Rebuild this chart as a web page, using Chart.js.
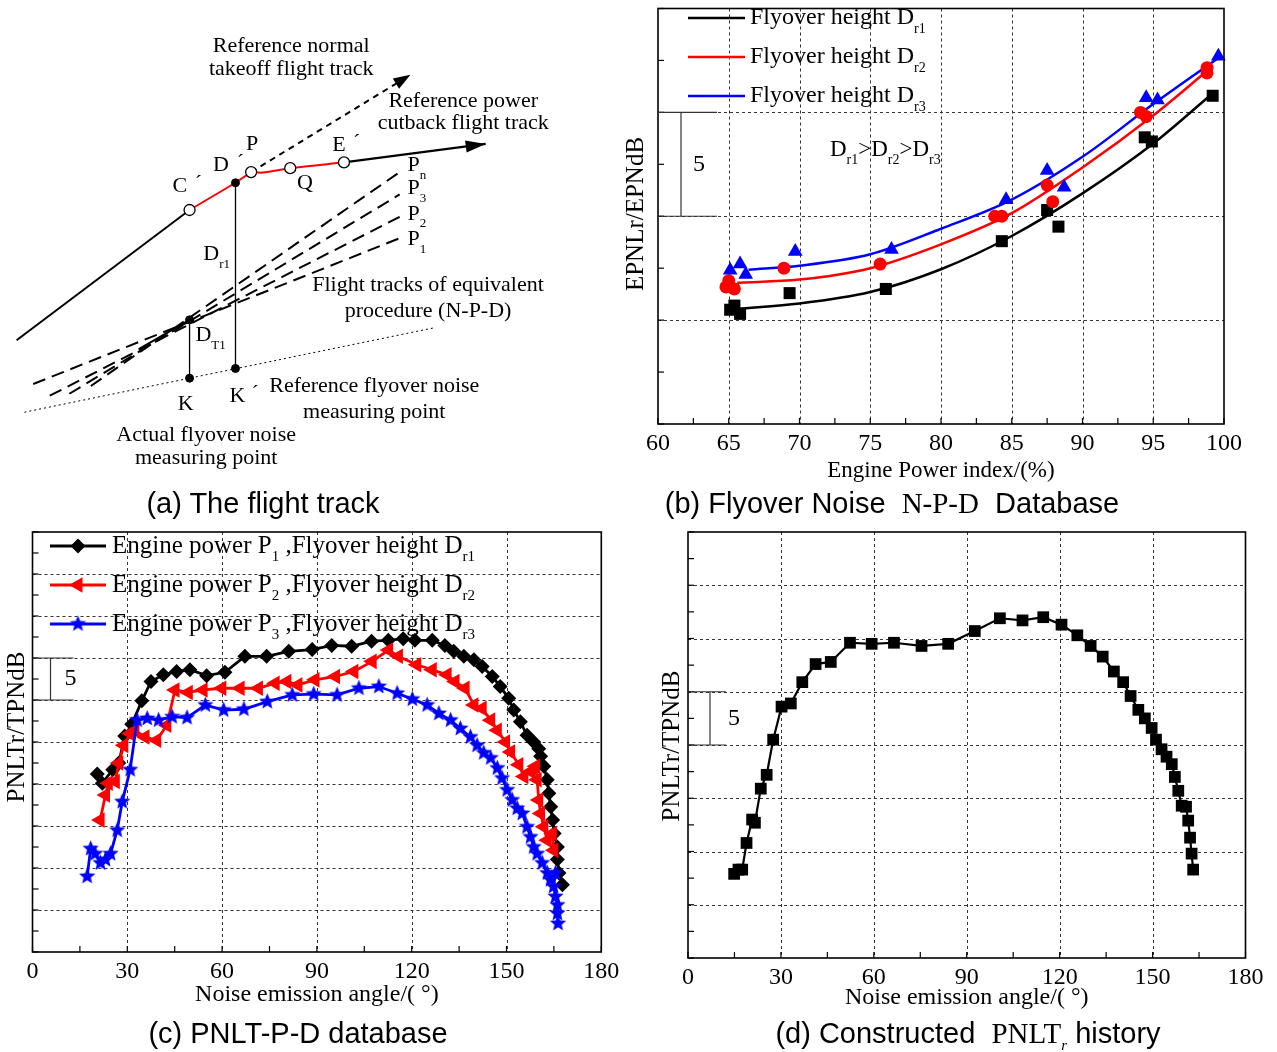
<!DOCTYPE html>
<html>
<head>
<meta charset="utf-8">
<title>Flyover noise N-P-D figure</title>
<script src="https://cdn.jsdelivr.net/npm/chart.js@4.4.1/dist/chart.umd.min.js"></script>
<style>
  html, body { margin: 0; padding: 0; background: #fff; }
  body { position: relative; width: 1277px; height: 1052px; overflow: hidden; }
  canvas { position: absolute; }
  .cap { position: absolute; font-family: "Liberation Sans", Arial, sans-serif; font-size: 29px; line-height: 32px;
         white-space: nowrap; transform: translateX(-50%); color: #000; }
  .cap .tm { font-family: "Liberation Serif", "Times New Roman", serif; }
  .cap sub { font-size: 15px; font-style: italic; vertical-align: -7px; line-height: 0; }
</style>
</head>
<body>
<canvas id="figA" width="600" height="490" style="left:0;top:0"></canvas>
<canvas id="figB" width="677" height="490" style="left:600px;top:0"></canvas>
<canvas id="figC" width="640" height="532" style="left:0;top:520px"></canvas>
<canvas id="figD" width="637" height="532" style="left:640px;top:520px"></canvas>
<div class="cap" style="left:263px;top:487px">(a) The flight track</div>
<div class="cap" style="left:892px;top:487px">(b) Flyover Noise&nbsp; <span class="tm">N-P-D</span>&nbsp; Database</div>
<div class="cap" style="left:298px;top:1017px">(c) PNLT-P-D database</div>
<div class="cap" style="left:968px;top:1017px">(d) Constructed&nbsp; <span class="tm">PNLT<sub>r</sub></span> history</div>

<script>
// ---------- (a) flight track sketch, in the sketch's own x/y units ----------
const aClimb     = [[10, 343], [187, 209]];
const aClimbRed  = [[187, 209], [234, 181], [250, 170]];
const aCutback   = [[250, 170], [262, 170.5], [290, 166], [345, 160]];
const aCutArrow  = [[345, 160], [490, 141]];
const aTakeoff   = [[250, 170], [413, 70]];
const aDr1       = [[234, 181], [234, 372]];
const aDT1       = [[187, 322], [187, 382]];
const aGround    = [[18, 417], [438, 330]];
const aStub      = [[135, 352], [187, 322]];
const aP1        = [[27, 388], [402, 238]];
const aP2        = [[44, 400], [402, 216]];
const aP3        = [[64, 398], [402, 193]];
const aPn        = [[86, 390], [402, 170]];
const aOpenPts   = [[187, 209], [250, 170], [290, 166], [345, 160]];
const aSolidPts  = [[234, 181], [234, 372], [187, 382], [187, 322]];

// ---------- (b) EPNL vs engine power, three flyover heights ----------
const powerTicks = [60, 65, 70, 75, 80, 85, 90, 95, 100];
const dr1Power = [65.1, 65.4, 65.8, 69.3, 76.1, 84.3, 87.5, 88.3, 94.4, 94.9, 99.2];
const dr1Epnl  = [5.5, 5.7, 5.3, 6.3, 6.5, 8.8, 10.3, 9.5, 13.8, 13.6, 15.8];
const dr2Power = [64.8, 65.0, 65.4, 68.9, 75.7, 83.8, 84.3, 87.5, 87.9, 94.1, 94.5, 98.8, 98.8];
const dr2Epnl  = [6.6, 6.9, 6.5, 7.5, 7.7, 10.0, 10.0, 11.5, 10.7, 15.0, 14.8, 16.9, 17.15];
const dr3Power = [65.1, 65.8, 66.2, 69.7, 76.5, 84.6, 87.5, 88.7, 94.5, 95.3, 99.6];
const dr3Epnl  = [7.4, 7.7, 7.2, 8.3, 8.4, 10.8, 12.2, 11.4, 15.7, 15.6, 17.7];
const fit1Power = [65.6, 70, 75, 80, 85, 90, 95, 99];
const fit1Epnl  = [5.55, 5.8, 6.35, 7.45, 9.05, 11.1, 13.5, 15.8];
const fit2Power = [65.6, 70, 75, 80, 85, 90, 95, 98.9];
const fit2Epnl  = [6.8, 6.95, 7.5, 8.65, 10.15, 12.35, 14.85, 17.05];
const fit3Power = [66.4, 70, 75, 80, 85, 90, 95, 99.6];
const fit3Epnl  = [7.43, 7.62, 8.17, 9.4, 10.8, 12.86, 15.4, 17.62];

// ---------- (c) PNLT-P-D database ----------
const angleTicks = [0, 30, 60, 90, 120, 150, 180];
const p1Angle = [20.5, 22.1, 25.4, 27.3, 29.2, 31.4, 34.6, 37.5, 41.4, 45.6, 49.8, 55.1, 60.9, 67.2, 74.1, 81.1,
  88.5, 94.7, 101.0, 107.3, 112.6, 117.3, 121.0, 126.5, 130.5, 133.3, 136.5, 139.7, 142.3, 145.5, 148.0, 150.7,
  152.3, 154.4, 156.5, 158.6, 160.2, 160.8, 161.8, 162.9, 163.4, 164.0, 164.6, 165.1, 166.1, 166.1, 166.6, 167.7];
const p1Pnlt = [21.2, 20.1, 21.7, 22.5, 25.7, 27.1, 29.9, 32.2, 33.0, 33.4, 33.6, 32.9, 33.3, 35.2, 35.2, 35.8,
  36.0, 36.5, 36.4, 37.0, 37.1, 37.3, 37.1, 37.1, 36.5, 35.8, 35.2, 34.8, 34.0, 32.8, 31.6, 30.2,
  28.8, 27.4, 25.8, 25.0, 24.2, 23.3, 22.1, 20.5, 18.9, 17.3, 15.7, 14.1, 12.5, 11.0, 9.4, 8.0];
const p2Angle = [21.4, 23.1, 24.0, 26.2, 27.3, 28.9, 30.9, 32.4, 35.6, 39.3, 42.5, 45.1, 49.3, 54.0, 59.9, 65.7,
  71.5, 76.8, 80.5, 84.0, 89.4, 95.9, 101.7, 107.5, 112.7, 115.8, 121.6, 126.5, 131.2, 133.7, 136.9, 139.7,
  142.3, 145.0, 147.1, 149.7, 151.3, 153.9, 155.5, 157.6, 159.2, 159.7, 160.2, 160.8, 161.8, 162.9, 164.5, 165.0];
const p2Pnlt = [15.7, 18.7, 20.1, 20.3, 22.5, 24.6, 26.0, 26.4, 25.6, 25.2, 27.0, 31.2, 30.9, 31.2, 31.4, 31.4,
  31.4, 32.0, 32.2, 31.8, 32.4, 32.8, 33.4, 34.6, 35.95, 35.2, 34.2, 33.6, 33.0, 32.2, 31.4, 29.4,
  29.0, 27.6, 26.4, 25.0, 23.8, 22.3, 20.9, 21.5, 22.1, 20.5, 18.1, 16.5, 14.9, 13.3, 14.1, 12.1];
const p3Angle = [17.3, 18.4, 19.8, 21.5, 23.1, 24.7, 26.8, 28.4, 30.9, 33.1, 36.3, 39.9, 44.2, 48.9, 54.7, 60.5,
  66.9, 74.3, 82.2, 89.0, 96.4, 103.3, 109.6, 115.4, 120.2, 124.9, 128.6, 132.3, 135.4, 138.6, 140.7, 142.8,
  145.0, 147.1, 148.6, 150.2, 151.8, 153.4, 155.0, 156.5, 157.6, 158.6, 159.7, 161.3, 162.9, 163.9, 165.5, 164.9,
  165.5, 166.1, 166.1, 166.3];
const p3Pnlt = [9.0, 12.3, 11.7, 10.6, 11.0, 11.7, 14.5, 17.9, 21.7, 27.6, 27.8, 27.6, 28.0, 27.9, 29.4, 28.8,
  28.9, 29.8, 30.6, 30.7, 30.6, 31.4, 31.6, 30.8, 30.1, 29.4, 28.4, 27.6, 26.6, 25.6, 24.6, 23.7,
  23.1, 21.9, 20.7, 19.3, 18.1, 17.1, 16.5, 14.9, 13.7, 12.5, 11.7, 10.6, 9.4, 8.6, 9.4, 7.8,
  6.6, 5.6, 4.6, 3.4];

// ---------- (d) constructed PNLTr history ----------
const histAngle = [14.9, 16.3, 17.5, 18.9, 20.7, 21.6, 23.5, 25.4, 27.5, 30.2, 33.2, 36.9, 41.2, 46.1, 52.3, 59.3,
  66.5, 75.4, 84.0, 92.6, 100.7, 108.0, 114.7, 120.6, 125.7, 130.0, 133.9, 137.5, 140.5, 142.9, 145.4, 147.5,
  149.7, 151.1, 152.9, 154.5, 156.2, 157.2, 158.3, 159.4, 160.8, 161.5, 162.1, 162.6, 163.1];
const histPnlt = [7.9, 8.3, 8.3, 10.8, 13.0, 12.7, 15.9, 17.2, 20.5, 23.6, 23.9, 25.9, 27.6, 27.8, 29.6, 29.5,
  29.6, 29.3, 29.5, 30.7, 31.9, 31.7, 32.0, 31.3, 30.3, 29.3, 28.3, 26.9, 25.9, 24.6, 23.3, 22.5,
  21.6, 20.5, 19.6, 18.9, 18.2, 17.0, 15.7, 14.3, 14.2, 12.9, 11.3, 9.8, 8.3];

const SERIF = '"Liberation Serif", "Times New Roman", serif';
Chart.defaults.animation = false;
Chart.defaults.events = [];
Chart.defaults.plugins.legend.display = false;
Chart.defaults.plugins.tooltip.enabled = false;

const pts = (xs, ys) => xs.map((v, i) => ({ x: v, y: ys[i] }));
const pairs = arr => arr.map(p => ({ x: p[0], y: p[1] }));

function seg(ctx, x1, y1, x2, y2) {
  ctx.beginPath(); ctx.moveTo(x1, y1); ctx.lineTo(x2, y2); ctx.stroke();
}

// text with subscripts: parts = [[text, isSub], ...]
function rich(ctx, parts, x, y, size, align) {
  const sub = Math.round(size * 0.6);
  let w = 0;
  parts.forEach(p => { ctx.font = (p[1] ? sub : size) + 'px ' + SERIF; w += ctx.measureText(p[0]).width; });
  let cx = align === 'center' ? x - w / 2 : x;
  ctx.textAlign = 'left'; ctx.textBaseline = 'middle';
  parts.forEach(p => {
    ctx.font = (p[1] ? sub : size) + 'px ' + SERIF;
    ctx.fillText(p[0], cx, p[1] ? y + size * 0.46 : y);
    cx += ctx.measureText(p[0]).width;
  });
}

function starImage(r, color) {
  const s = Math.ceil(r * 2 + 2);
  const c = document.createElement('canvas');
  c.width = c.height = s;
  const g = c.getContext('2d');
  g.fillStyle = color; g.beginPath();
  for (let i = 0; i < 10; i++) {
    const a = -Math.PI / 2 + i * Math.PI / 5, rr = i % 2 ? r * 0.45 : r;
    g.lineTo(s / 2 + rr * Math.cos(a), s / 2 + rr * Math.sin(a));
  }
  g.closePath(); g.fill();
  return c;
}
const blueStar = starImage(8.5, '#0000ff');

function arrowHead(ctx, x1, y1, x2, y2, len, half) {
  const a = Math.atan2(y2 - y1, x2 - x1), c = Math.cos(a), s = Math.sin(a);
  ctx.beginPath();
  ctx.moveTo(x2, y2);
  ctx.lineTo(x2 - len * c + half * s, y2 - len * s - half * c);
  ctx.lineTo(x2 - len * c - half * s, y2 - len * s + half * c);
  ctx.closePath(); ctx.fill();
}

// ---------- panel (a) ----------
function path(label, arr, color, width, dash, tension) {
  return { label, data: pairs(arr), showLine: true, borderColor: color, borderWidth: width,
           borderDash: dash || [], tension: tension || 0, pointRadius: 0, clip: false, order: 5 };
}

const flightLabels = {
  id: 'flightLabels',
  afterDraw(chart) {
    const { ctx, scales: { x, y } } = chart;
    const X = v => x.getPixelForValue(v), Y = v => y.getPixelForValue(v) - 2;
    ctx.save();
    ctx.fillStyle = '#000';
    ['takeoff', 'cutbackArrow'].forEach((name, k) => {
      const i = chart.data.datasets.findIndex(d => d.label === name);
      const el = chart.getDatasetMeta(i).data;
      const a = el[el.length - 2], b = el[el.length - 1];
      arrowHead(ctx, a.x, a.y, b.x, b.y, k ? 20 : 17, 6);
    });
    const t = (s, px, py) => { rich(ctx, [[s, 0]], X(px), Y(py), 22, 'center'); };
    t('Reference normal', 291, 43);
    t('takeoff flight track', 291, 66);
    t('Reference power', 467, 99);
    t('cutback flight track', 467, 122);
    t('P', 251, 143);
    t('D', 219, 165); t('\u00B4', 239, 163);
    t('C', 177, 187); t('\u00B4', 196, 185);
    t('E', 340, 144); t('\u00B4', 358, 142);
    t('Q', 305, 183);
    t('K', 183, 411);
    t('K', 236, 403); t('\u00B4', 254, 401);
    t('Flight tracks of equivalent', 431, 288);
    t('procedure (N-P-D)', 431, 315);
    t('Reference flyover noise', 376, 392);
    t('measuring point', 376, 419);
    t('Actual flyover noise', 204, 443);
    t('measuring point', 204, 466);
    rich(ctx, [['D', 0], ['r1', 1]], X(201), Y(257), 22, 'left');
    rich(ctx, [['D', 0], ['T1', 1]], X(193), Y(340), 22, 'left');
    [['n', 165], ['3', 189], ['2', 215], ['1', 241]].forEach(r => rich(ctx, [['P', 0], [r[0], 1]], X(410), Y(r[1]), 22, 'left'));
    ctx.restore();
  }
};

new Chart(document.getElementById('figA'), {
  type: 'scatter',
  data: { datasets: [
    { label: 'open', data: pairs(aOpenPts), pointRadius: 5.5, pointBackgroundColor: '#fff',
      pointBorderColor: '#000', pointBorderWidth: 1.3, clip: false, order: 0 },
    { label: 'solid', data: pairs(aSolidPts), pointRadius: 4, pointBackgroundColor: '#000',
      pointBorderColor: '#000', clip: false, order: 0 },
    path('climb', aClimb, '#000', 2),
    path('climbRed', aClimbRed, '#ff0000', 2),
    path('cutbackRed', aCutback, '#ff0000', 2, null, 0.3),
    path('cutbackArrow', aCutArrow, '#000', 2.2),
    path('takeoff', aTakeoff, '#000', 2, [6, 5]),
    path('heightDr1', aDr1, '#000', 1.3),
    path('heightDT1', aDT1, '#000', 1.3),
    path('ground', aGround, '#000', 1, [2, 3]),
    path('stub', aStub, '#000', 2),
    path('P1', aP1, '#000', 2, [13, 7]),
    path('P2', aP2, '#000', 2, [13, 7]),
    path('P3', aP3, '#000', 2, [13, 7]),
    path('Pn', aPn, '#000', 2, [13, 7])
  ]},
  options: {
    responsive: false,
    layout: { padding: 0 },
    scales: {
      x: { type: 'linear', display: false, min: 0, max: 600 },
      y: { type: 'linear', display: false, min: 0, max: 490, reverse: true }
    }
  },
  plugins: [flightLabels]
});

// ---------- shared frame for (b), (c), (d) ----------
function framePlugin(o) {
  return {
    id: 'frame' + o.key,
    beforeDatasetsDraw(chart) {
      const { ctx, chartArea: a, scales: { x, y } } = chart;
      ctx.save();
      ctx.strokeStyle = '#333'; ctx.lineWidth = 1; ctx.setLineDash([3, 3]);
      o.xGrid.forEach(v => { const p = Math.round(x.getPixelForValue(v)) + 0.5; seg(ctx, p, a.top, p, a.bottom); });
      o.yGrid.forEach(v => { const p = Math.round(y.getPixelForValue(v)) + 0.5; seg(ctx, a.left, p, a.right, p); });
      ctx.restore();
    },
    afterDraw(chart) {
      const { ctx, chartArea: a, scales: { x, y } } = chart;
      ctx.save();
      ctx.strokeStyle = '#000'; ctx.fillStyle = '#000'; ctx.setLineDash([]);
      ctx.lineWidth = 1.6;
      ctx.strokeRect(a.left, a.top, a.right - a.left, a.bottom - a.top);
      ctx.lineWidth = 1.2;
      for (let v = x.min; v <= x.max + 1e-9; v += o.xMinor) {
        const p = x.getPixelForValue(v); seg(ctx, p, a.bottom, p, a.bottom - 6);
      }
      for (let v = y.min; v <= y.max + 1e-9; v += o.yMinor) {
        const p = y.getPixelForValue(v); seg(ctx, a.left, p, a.left + 6, p);
      }
      ctx.font = '24px ' + SERIF; ctx.textAlign = 'center'; ctx.textBaseline = 'middle';
      o.xLabels.forEach(v => ctx.fillText(String(v), x.getPixelForValue(v), a.bottom + 20));
      ctx.font = o.titleSize + 'px ' + SERIF;
      ctx.fillText(o.xTitle, (a.left + a.right) / 2, a.bottom + o.xTitleGap);
      ctx.save();
      ctx.translate(o.yTitleX, o.yTitleY); ctx.rotate(-Math.PI / 2);
      ctx.font = '25px ' + SERIF; ctx.fillText(o.yTitle, 0, 0);
      ctx.restore();
      // 5 dB scale bracket
      const b = o.bracket, p1 = y.getPixelForValue(b.hi), p2 = y.getPixelForValue(b.lo);
      ctx.strokeStyle = '#333'; ctx.lineWidth = 1.2;
      seg(ctx, a.left, p1, a.left + b.w, p1);
      seg(ctx, a.left, p2, a.left + b.w, p2);
      seg(ctx, a.left + b.bar, p1, a.left + b.bar, p2);
      ctx.font = '24px ' + SERIF;
      ctx.fillText('5', a.left + b.lab, (p1 + p2) / 2);
      if (o.extra) o.extra(ctx, chart);
      ctx.restore();
    }
  };
}

function curve(xs, ys, color, order) {
  return { data: pts(xs, ys), showLine: true, borderColor: color, borderWidth: 2.5, pointRadius: 0,
           cubicInterpolationMode: 'monotone', clip: false, order };
}
function marks(xs, ys, color, style, r, order) {
  return { data: pts(xs, ys), showLine: false, pointStyle: style, pointRadius: r,
           pointBackgroundColor: color, pointBorderColor: color, pointBorderWidth: 0, clip: false, order };
}

// ---------- panel (b) ----------
new Chart(document.getElementById('figB'), {
  type: 'scatter',
  data: { datasets: [
    marks(dr3Power, dr3Epnl, '#0000ff', 'triangle', 8.5, 0),
    marks(dr2Power, dr2Epnl, '#ff0000', 'circle', 6.5, 1),
    marks(dr1Power, dr1Epnl, '#000', 'rect', 8.5, 2),
    curve(fit3Power, fit3Epnl, '#0000ff', 3),
    curve(fit2Power, fit2Epnl, '#ff0000', 4),
    curve(fit1Power, fit1Epnl, '#000', 5)
  ]},
  options: {
    responsive: false,
    layout: { padding: { left: 58, top: 5, right: 53, bottom: 66 } },
    scales: {
      x: { type: 'linear', display: false, min: 60, max: 100 },
      y: { type: 'linear', display: false, min: 0, max: 20 }
    }
  },
  plugins: [framePlugin({
    key: 'B', xGrid: [65, 70, 75, 80, 85, 90, 95], yGrid: [5, 10, 15], xMinor: 2.5, yMinor: 2.5,
    xLabels: powerTicks, titleSize: 23, xTitle: 'Engine Power index/(%)', xTitleGap: 47,
    yTitle: 'EPNLr/EPNdB', yTitleX: 36, yTitleY: 214,
    bracket: { hi: 15, lo: 10, w: 59, bar: 23, lab: 41 },
    extra(ctx) {
      [['#000', 'r1', 18], ['#ff0000', 'r2', 57], ['#0000ff', 'r3', 96]].forEach(r => {
        ctx.strokeStyle = r[0]; ctx.lineWidth = 2.5; seg(ctx, 88, r[2], 145, r[2]);
        ctx.fillStyle = '#000';
        rich(ctx, [['Flyover height D', 0], [r[1], 1]], 150, r[2], 24, 'left');
      });
      rich(ctx, [['D', 0], ['r1', 1], ['>D', 0], ['r2', 1], ['>D', 0], ['r3', 1]], 230, 150, 23, 'left');
    }
  })]
});

// ---------- panel (c) ----------
function legendMark(ctx, kind, x, y) {
  ctx.beginPath();
  if (kind === 'diamond') {
    ctx.fillStyle = '#000';
    ctx.moveTo(x, y - 7.5); ctx.lineTo(x + 7.5, y); ctx.lineTo(x, y + 7.5); ctx.lineTo(x - 7.5, y);
    ctx.closePath(); ctx.fill();
  } else if (kind === 'left') {
    ctx.fillStyle = '#ff0000';
    ctx.moveTo(x - 9, y); ctx.lineTo(x + 4.5, y - 7.8); ctx.lineTo(x + 4.5, y + 7.8);
    ctx.closePath(); ctx.fill();
  } else {
    ctx.drawImage(blueStar, x - blueStar.width / 2, y - blueStar.height / 2);
  }
}

new Chart(document.getElementById('figC'), {
  type: 'scatter',
  data: { datasets: [
    { data: pts(p3Angle, p3Pnlt), showLine: true, borderColor: '#0000ff', borderWidth: 2.8,
      pointStyle: blueStar, pointRadius: 8.5, clip: false, order: 0 },
    { data: pts(p2Angle, p2Pnlt), showLine: true, borderColor: '#ff0000', borderWidth: 2.8,
      pointStyle: 'triangle', pointRotation: -90, pointRadius: 9, pointBackgroundColor: '#ff0000',
      pointBorderColor: '#ff0000', pointBorderWidth: 0, clip: false, order: 1 },
    { data: pts(p1Angle, p1Pnlt), showLine: true, borderColor: '#000', borderWidth: 2.8,
      pointStyle: 'rectRot', pointRadius: 7.5, pointBackgroundColor: '#000',
      pointBorderColor: '#000', pointBorderWidth: 0, clip: false, order: 2 }
  ]},
  options: {
    responsive: false,
    layout: { padding: { left: 32.5, top: 12, right: 38.7, bottom: 100 } },
    scales: {
      x: { type: 'linear', display: false, min: 0, max: 180 },
      y: { type: 'linear', display: false, min: 0, max: 50 }
    }
  },
  plugins: [framePlugin({
    key: 'C', xGrid: [30, 60, 90, 120, 150], yGrid: [5, 10, 15, 20, 25, 30, 35, 40, 45], xMinor: 15, yMinor: 2.5,
    xLabels: angleTicks, titleSize: 24, xTitle: 'Noise emission angle/( \u00B0)', xTitleGap: 43,
    yTitle: 'PNLTr/TPNdB', yTitleX: 17, yTitleY: 207,
    bracket: { hi: 35, lo: 30, w: 41, bar: 18, lab: 38 },
    extra(ctx) {
      [['#000', 'diamond', '1', 26], ['#ff0000', 'left', '2', 65], ['#0000ff', 'star', '3', 104]].forEach(r => {
        ctx.strokeStyle = r[0]; ctx.lineWidth = 2.8; seg(ctx, 50, r[3], 106, r[3]);
        legendMark(ctx, r[1], 78, r[3]);
        ctx.fillStyle = '#000';
        rich(ctx, [['Engine power P', 0], [r[2], 1], [' ,Flyover height D', 0], ['r' + r[2], 1]], 112, r[3], 25, 'left');
      });
    }
  })]
});

// ---------- panel (d) ----------
new Chart(document.getElementById('figD'), {
  type: 'scatter',
  data: { datasets: [
    { data: pts(histAngle, histPnlt), showLine: true, borderColor: '#000', borderWidth: 2.2,
      pointStyle: 'rect', pointRadius: 8.3, pointBackgroundColor: '#000', pointBorderColor: '#000',
      pointBorderWidth: 0, clip: false }
  ]},
  options: {
    responsive: false,
    layout: { padding: { left: 48, top: 12, right: 31.5, bottom: 94 } },
    scales: {
      x: { type: 'linear', display: false, min: 0, max: 180 },
      y: { type: 'linear', display: false, min: 0, max: 40 }
    }
  },
  plugins: [framePlugin({
    key: 'D', xGrid: [30, 60, 90, 120, 150], yGrid: [5, 10, 15, 20, 25, 30, 35], xMinor: 15, yMinor: 2.5,
    xLabels: angleTicks, titleSize: 24, xTitle: 'Noise emission angle/( \u00B0)', xTitleGap: 40,
    yTitle: 'PNLTr/TPNdB', yTitleX: 32, yTitleY: 226,
    bracket: { hi: 25, lo: 20, w: 38, bar: 22, lab: 46 }
  })]
});
</script>
</body>
</html>
